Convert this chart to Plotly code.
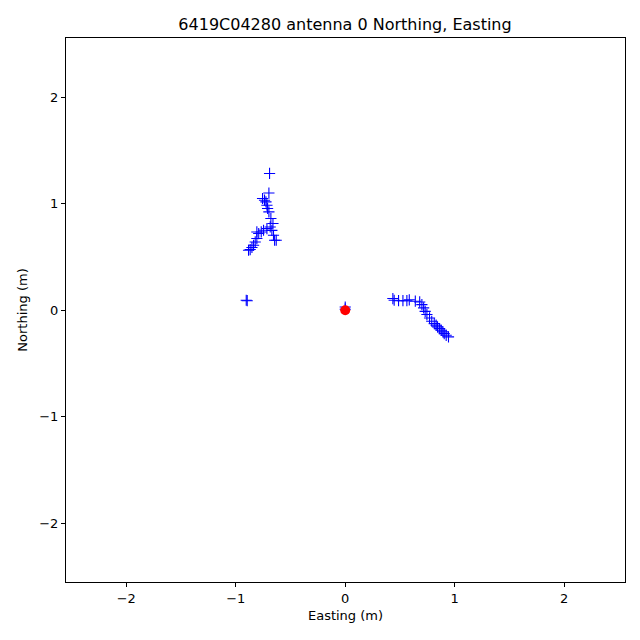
import plotly.graph_objects as go

# Blue '+' measured positions (Easting, Northing) in metres
easting = [-0.691, -0.697, -0.755, -0.737, -0.724, -0.715, -0.709, -0.697, -0.679, -0.660,
           -0.685, -0.670, -0.715, -0.746, -0.767, -0.807, -0.790, -0.655, -0.630, -0.645,
           -0.807, -0.822, -0.837, -0.852, -0.868, -0.883,
           -0.904, -0.895,
           0.0, 0.0,
           0.435, 0.447, 0.487, 0.527, 0.563, 0.585, 0.640, 0.680, 0.700, 0.716, 0.730,
           0.746, 0.770, 0.790, 0.813, 0.830, 0.843, 0.862, 0.877, 0.892, 0.904, 0.922, 0.943]
northing = [1.284, 1.100, 1.049, 1.033, 1.017, 0.986, 0.955, 0.923, 0.861, 0.814,
            0.782, 0.750, 0.767, 0.751, 0.735, 0.735, 0.720, 0.704, 0.657, 0.657,
            0.673, 0.641, 0.610, 0.589, 0.570, 0.563,
            0.094, 0.090,
            0.030, 0.010,
            0.110, 0.094, 0.090, 0.090, 0.090, 0.098, 0.085, 0.078, 0.053, 0.022, -0.010,
            -0.040, -0.072, -0.103, -0.125, -0.140, -0.156, -0.172, -0.188, -0.203, -0.219, -0.235, -0.250]

# Red reference point
ref_e = [0.0]
ref_n = [0.0]

xticks = [-2, -1, 0, 1, 2]
yticks = [-2, -1, 0, 1, 2]
axis_range = [-2.55, 2.555]

fig = go.Figure()
fig.add_trace(go.Scatter(
    x=easting, y=northing, mode="markers",
    marker=dict(symbol="cross-thin", size=8, line=dict(color="blue", width=1.1), color="blue"),
    showlegend=False))
fig.add_trace(go.Scatter(
    x=ref_e, y=ref_n, mode="markers",
    marker=dict(symbol="circle", size=10, color="red"),
    showlegend=False))

font = "DejaVu Sans"
axis_common = dict(
    showgrid=False, zeroline=False, showline=True, linecolor="black", linewidth=1,
    mirror=True, ticks="outside", ticklen=4, tickwidth=1, tickcolor="black",
    tickfont=dict(family=font, size=13, color="black"), range=axis_range,
)
W = 632
fig.update_layout(
    width=W, height=W,
    margin=dict(l=58, r=15, t=30, b=58),
    paper_bgcolor="white", plot_bgcolor="white",
    title=dict(text="6419C04280 antenna 0 Northing, Easting", x=(345 - 8) / W, xanchor="center",
               y=1 - 16 / W, yanchor="middle",
               font=dict(family=font, size=16, color="black")),
    xaxis=dict(**axis_common, tickvals=xticks, ticktext=[str(t) if t >= 0 else "\u2212" + str(-t) for t in xticks],
               title=dict(text="Easting (m)", font=dict(family=font, size=13, color="black"), standoff=6)),
    yaxis=dict(**axis_common, tickvals=yticks, ticktext=[str(t) if t >= 0 else "\u2212" + str(-t) for t in yticks],
               title=dict(text="Northing (m)", font=dict(family=font, size=13, color="black"), standoff=8)),
)
fig.write_html("out.html")
